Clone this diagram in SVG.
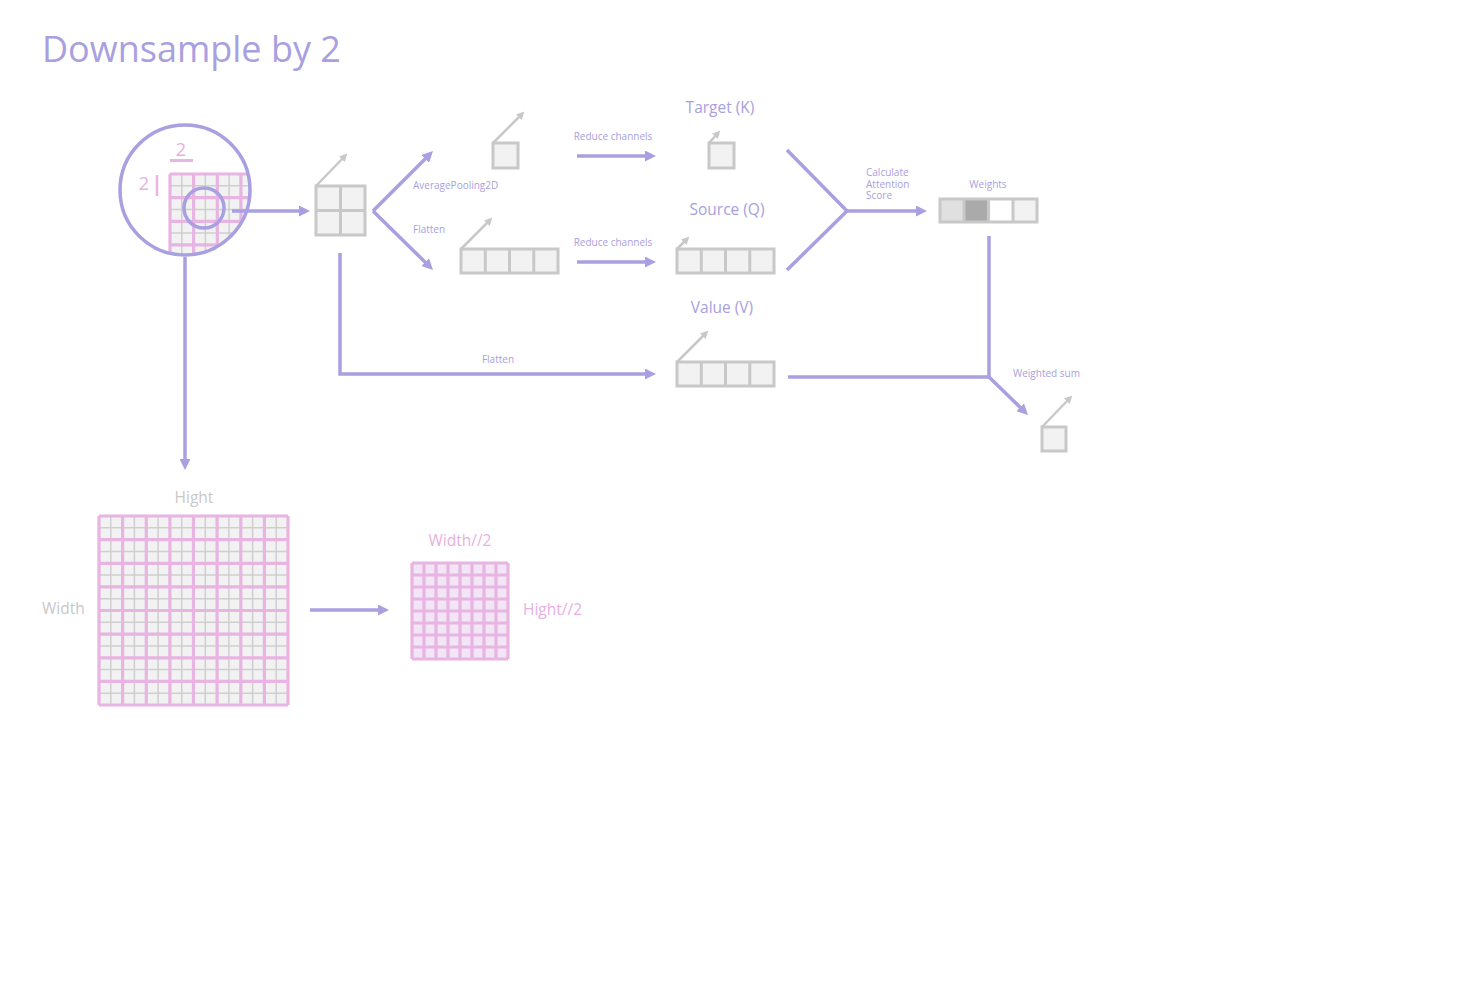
<svg xmlns="http://www.w3.org/2000/svg" width="1471" height="988" viewBox="0 0 1471 988">
<style>
text{font-family:"Open Sans","Noto Sans","Liberation Sans",sans-serif}
.p{fill:#a8a0e0}
.g{fill:#c8c8c8}
.k{fill:#e8b0e0}
.s10{font-size:10px}
.s15{font-size:15.5px}
.con{stroke:#a8a0e0;stroke-width:3.5;fill:none}
.arr{marker-end:url(#pa)}
.garr{stroke:#c8c8c8;stroke-width:2.5;fill:none;marker-end:url(#ga)}
.box{stroke:#c8c8c8;stroke-width:3;fill:#f2f2f2}
.div{stroke:#c8c8c8;stroke-width:3}
.pk{stroke:#e8b4e2;stroke-width:3.2;fill:none}
.gl{stroke:#cfcfcf;stroke-width:1.5;fill:none}
</style>
<defs>
<marker id="pa" viewBox="0 0 10 10" refX="4" refY="5" markerWidth="11" markerHeight="11" markerUnits="userSpaceOnUse" orient="auto">
<path d="M0,0 L10,5 L0,10 z" fill="#a8a0e0"/>
</marker>
<marker id="ga" viewBox="0 0 10 10" refX="4" refY="5" markerWidth="8" markerHeight="8" markerUnits="userSpaceOnUse" orient="auto">
<path d="M0,0 L10,5 L0,10 z" fill="#c8c8c8"/>
</marker>
<clipPath id="cc"><circle cx="185" cy="190" r="64"/></clipPath>
</defs>
<rect width="1471" height="988" fill="#ffffff"/>

<text x="42" y="62" class="p" font-size="36">Downsample by 2</text>

<g id="zoom-circle">
<g clip-path="url(#cc)">
<rect x="170" y="174" width="95" height="95" fill="#f2f2f2"/>
<path class="gl" d="M181.8,174V270M205.4,174V270M229.1,174V270M252.7,174V270M170,185.8H266M170,209.4H266M170,233.1H266M170,256.7H266"/>
<path class="pk" d="M170,174V270M193.6,174V270M217.3,174V270M240.9,174V270M264.5,174V270M170,174H266M170,197.6H266M170,221.3H266M170,244.9H266M170,268.5H266"/>
</g>
<circle cx="185" cy="190" r="65" fill="none" stroke="#a8a0e0" stroke-width="3.5"/>
<circle cx="204" cy="208" r="20" fill="none" stroke="#a8a0e0" stroke-width="3.5"/>
<text x="181" y="156" class="k" font-size="18" text-anchor="middle">2</text>
<line x1="170" y1="160.5" x2="193" y2="160.5" stroke="#e8b4e2" stroke-width="3"/>
<text x="144" y="190" class="k" font-size="18" text-anchor="middle">2</text>
<line x1="157" y1="175" x2="157" y2="196" stroke="#e8b4e2" stroke-width="2.5"/>
</g>

<g id="box-2x2">
<rect class="box" x="316" y="186" width="49" height="49"/>
<path class="div" d="M340.5,186V235M316,210.5H365"/>
<line class="garr" x1="316" y1="186" x2="344" y2="157"/>
</g>

<g id="box-avgpool">
<rect class="box" x="493" y="143" width="25" height="25"/>
<line class="garr" x1="493" y1="143" x2="521" y2="115"/>
</g>

<g id="box-flatten">
<rect class="box" x="461" y="249" width="97" height="24"/>
<path class="div" d="M485.3,249V273M509.5,249V273M533.8,249V273"/>
<line class="garr" x1="461" y1="249" x2="489" y2="221"/>
</g>

<g id="node-target">
<text x="720" y="113" class="p s15" text-anchor="middle">Target (K)</text>
<rect class="box" x="709" y="143" width="25" height="25"/>
<line class="garr" x1="709" y1="143" x2="717" y2="134"/>
</g>

<g id="node-source">
<text x="727" y="215" class="p s15" text-anchor="middle">Source (Q)</text>
<rect class="box" x="677" y="249" width="97" height="24"/>
<path class="div" d="M701.3,249V273M725.5,249V273M749.8,249V273"/>
<line class="garr" x1="677" y1="249" x2="686" y2="240"/>
</g>

<g id="node-value">
<text x="722" y="313" class="p s15" text-anchor="middle">Value (V)</text>
<rect class="box" x="677" y="362" width="97" height="24"/>
<path class="div" d="M701.3,362V386M725.5,362V386M749.8,362V386"/>
<line class="garr" x1="677" y1="362" x2="705" y2="334"/>
</g>

<g id="node-weights">
<text x="988" y="188" class="p s10" text-anchor="middle">Weights</text>
<rect x="940" y="199" width="24" height="23" fill="#e0e0e0"/>
<rect x="964" y="199" width="24.5" height="23" fill="#aaaaaa"/>
<rect x="988.5" y="199" width="24.5" height="23" fill="#ffffff"/>
<rect x="1013" y="199" width="24" height="23" fill="#f2f2f2"/>
<rect x="940" y="199" width="97" height="23" fill="none" stroke="#c8c8c8" stroke-width="3"/>
<path class="div" d="M964,199V222M988.5,199V222M1013,199V222"/>
</g>

<g id="node-output">
<rect class="box" x="1042" y="427" width="24" height="24"/>
<line class="garr" x1="1042" y1="427" x2="1069" y2="399"/>
</g>

<g id="grid-large">
<text x="194" y="503" class="g s15" text-anchor="middle">Hight</text>
<text x="42" y="614" class="g s15">Width</text>
<rect x="99" y="516" width="189" height="189" fill="#f2f2f2"/>
<path class="gl" d="M110.8,516V705M134.4,516V705M158.1,516V705M181.7,516V705M205.3,516V705M228.9,516V705M252.6,516V705M276.2,516V705M99,527.8H288M99,551.4H288M99,575.1H288M99,598.7H288M99,622.3H288M99,645.9H288M99,669.6H288M99,693.2H288"/>
<path class="pk" d="M99,516V705M122.6,516V705M146.3,516V705M169.9,516V705M193.5,516V705M217.1,516V705M240.8,516V705M264.4,516V705M288,516V705M99,516H288M99,539.6H288M99,563.3H288M99,586.9H288M99,610.5H288M99,634.1H288M99,657.8H288M99,681.4H288M99,705H288"/>
</g>

<g id="grid-small">
<text x="460" y="546" class="k s15" text-anchor="middle">Width//2</text>
<text x="523" y="615" class="k s15">Hight//2</text>
<rect x="412" y="563" width="96" height="96" fill="#f2e6f6"/>
<path class="pk" d="M412,563V659M424,563V659M436,563V659M448,563V659M460,563V659M472,563V659M484,563V659M496,563V659M508,563V659M412,563H508M412,575H508M412,587H508M412,599H508M412,611H508M412,623H508M412,635H508M412,647H508M412,659H508"/>
</g>

<g id="connectors">
<line class="con arr" x1="232" y1="211" x2="303.4" y2="211"/>
<line class="con arr" x1="373" y1="211" x2="428.3" y2="155.7"/>
<line class="con arr" x1="373" y1="211" x2="428.3" y2="265.3"/>
<line class="con arr" x1="577" y1="156" x2="649.4" y2="156"/>
<line class="con arr" x1="577" y1="262" x2="649.4" y2="262"/>
<path class="con arr" d="M340,253V374H649.4"/>
<path class="con" d="M787,150L847,211L787,270"/>
<line class="con arr" x1="847" y1="211" x2="920.4" y2="211"/>
<path class="con" d="M989,236V377M788,377H989"/>
<line class="con arr" x1="989" y1="377" x2="1023.3" y2="410.4"/>
<line class="con arr" x1="185" y1="257" x2="185" y2="463.4"/>
<line class="con arr" x1="310" y1="610" x2="382.4" y2="610"/>
<text x="413" y="189" class="p s10">AveragePooling2D</text>
<text x="413" y="233" class="p s10">Flatten</text>
<text x="613" y="140" class="p s10" text-anchor="middle">Reduce channels</text>
<text x="613" y="246" class="p s10" text-anchor="middle">Reduce channels</text>
<text x="498" y="363" class="p s10" text-anchor="middle">Flatten</text>
<text x="866" y="176" class="p s10">Calculate</text>
<text x="866" y="187.5" class="p s10">Attention</text>
<text x="866" y="199" class="p s10">Score</text>
<text x="1013" y="377" class="p s10">Weighted sum</text>
</g>
</svg>
